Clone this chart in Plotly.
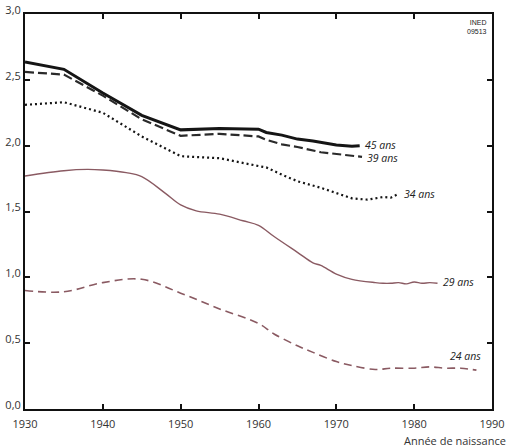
import plotly.graph_objects as go

# Descendance finale atteinte à chaque âge, par année de naissance
annees_45 = [1930, 1935, 1940, 1945, 1950, 1955, 1960, 1961, 1963, 1965, 1967, 1968, 1970, 1972, 1973]
enfants_45 = [2.635, 2.58, 2.40, 2.23, 2.12, 2.13, 2.125, 2.10, 2.08, 2.05, 2.035, 2.025, 2.005, 1.995, 2.00]

annees_39 = [1930, 1935, 1940, 1945, 1950, 1955, 1960, 1961, 1963, 1965, 1968, 1970, 1972, 1973.3]
enfants_39 = [2.56, 2.54, 2.38, 2.20, 2.075, 2.09, 2.07, 2.045, 2.01, 1.99, 1.95, 1.935, 1.92, 1.915]

annees_34 = [1930, 1935, 1940, 1945, 1950, 1955, 1960, 1961, 1963, 1965, 1968, 1970, 1972, 1974, 1975, 1976, 1977, 1978]
enfants_34 = [2.31, 2.33, 2.25, 2.07, 1.92, 1.905, 1.845, 1.835, 1.78, 1.73, 1.68, 1.64, 1.60, 1.59, 1.60, 1.61, 1.605, 1.635]

annees_29 = [1930, 1935, 1938, 1940, 1943, 1945, 1948, 1950, 1952, 1955, 1958, 1960, 1962, 1965, 1967, 1968,
             1970, 1972, 1975, 1976, 1977, 1978, 1979, 1980, 1981, 1982, 1983]
enfants_29 = [1.77, 1.81, 1.82, 1.815, 1.795, 1.765, 1.64, 1.55, 1.505, 1.48, 1.43, 1.395, 1.31, 1.19, 1.11, 1.09,
              1.025, 0.985, 0.96, 0.955, 0.955, 0.96, 0.95, 0.965, 0.955, 0.96, 0.955]

annees_24 = [1930, 1935, 1940, 1945, 1950, 1955, 1960, 1962, 1965, 1967, 1970, 1972, 1975, 1977, 1980, 1982,
             1984, 1986, 1988]
enfants_24 = [0.90, 0.89, 0.96, 0.985, 0.88, 0.76, 0.65, 0.57, 0.48, 0.43, 0.36, 0.33, 0.30, 0.31, 0.31, 0.32,
              0.31, 0.31, 0.295]

ticks_x = [1930, 1940, 1950, 1960, 1970, 1980, 1990]
ticks_y = [0, 0.5, 1.0, 1.5, 2.0, 2.5, 3.0]
labels_y = ["0,0", "0,5", "1,0", "1,5", "2,0", "2,5", "3,0"]

noir = "#151515"
brun = "#8a5a62"

# nom, x, y, couleur, largeur, tirets, forme, décalage vertical de l'étiquette
series = [
    ("45 ans", annees_45, enfants_45, noir, 3, "solid", "linear", 1),
    ("39 ans", annees_39, enfants_39, "#2a2a2a", 2.2, "9px,4px", "linear", -1),
    ("34 ans", annees_34, enfants_34, noir, 2.2, "2px,3px", "linear", 0),
    ("29 ans", annees_29, enfants_29, brun, 1.4, "solid", "spline", 1),
    ("24 ans", annees_24, enfants_24, brun, 1.6, "8px,5px", "spline", 0),
]

fig = go.Figure()
for nom, x, y, couleur, largeur, tirets, forme, dy in series:
    fig.add_trace(go.Scatter(x=x, y=y, mode="lines", name=nom, line_shape=forme,
                             line=dict(color=couleur, width=largeur, dash=tirets)))

# Étiquettes en fin de courbe
police_lab = dict(family="Open Sans, Liberation Sans, sans-serif", size=10.5, color="#222")
for nom, x, y, couleur, largeur, tirets, forme, dy in series[:4]:
    fig.add_annotation(x=x[-1], y=y[-1], text="<i>" + nom + "</i>", showarrow=False,
                       xanchor="left", yanchor="middle", xshift=3, yshift=dy, font=police_lab)
fig.add_annotation(x=1986.6, y=0.40, text="<i>24 ans</i>", showarrow=False,
                   xanchor="center", yanchor="middle", font=police_lab)

fig.add_annotation(x=1, y=1, xref="paper", yref="paper", text="INED<br>09513", showarrow=False,
                   xanchor="right", yanchor="top", xshift=-3, yshift=-3, align="right",
                   font=dict(family="Liberation Sans Narrow, Liberation Sans, sans-serif", size=7, color="#222"))
fig.add_annotation(x=1, y=0, xref="paper", yref="paper", text="Année de naissance", showarrow=False,
                   xanchor="right", yanchor="top", xshift=16, yshift=-22,
                   font=dict(family="Open Sans, Liberation Sans, sans-serif", size=11, color="#333"))

axe = dict(showgrid=False, zeroline=False, showline=True, linecolor="#111", linewidth=2,
           mirror="ticks", ticks="inside", ticklen=5, tickwidth=1.5, tickcolor="#111",
           automargin=False,
           tickfont=dict(family="Open Sans, Liberation Sans, sans-serif", size=11, color="#333"))

fig.update_xaxes(range=[1930, 1990], tickvals=ticks_x, ticklabelstandoff=4, **axe)
fig.update_yaxes(range=[0, 3.0], tickvals=ticks_y, ticktext=labels_y, ticklabelshift=-4, **axe)

fig.update_layout(width=510, height=448, showlegend=False,
                  plot_bgcolor="white", paper_bgcolor="white",
                  margin=dict(l=25, r=18, t=14, b=39))

# pas de marge autour du graphique dans la page
fig.write_html("out.html", config={"displayModeBar": False},
               post_script="document.body.style.margin='0';document.body.style.overflow='hidden';")
